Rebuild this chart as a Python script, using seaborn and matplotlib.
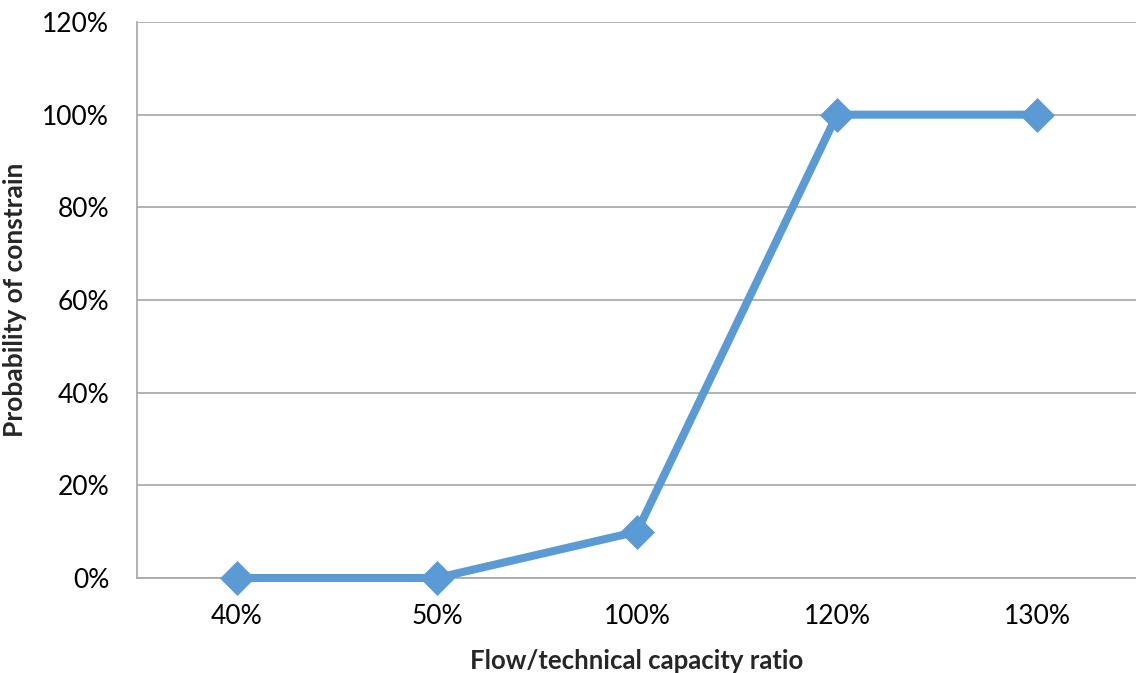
import matplotlib
matplotlib.use("Agg")
import matplotlib.pyplot as plt
import seaborn as sns
import pandas as pd
from matplotlib.ticker import FixedLocator, PercentFormatter

# Flow / technical capacity ratio categories and probability of constraint
ratio_labels = ["40%", "50%", "100%", "120%", "130%"]
probability = [0.0, 0.0, 0.10, 1.0, 1.0]
y_ticks = [0.0, 0.2, 0.4, 0.6, 0.8, 1.0, 1.2]

sns.set_style("white")
plt.rcParams["font.family"] = ["Lato", "DejaVu Sans"]

df = pd.DataFrame({"ratio": ratio_labels, "prob": probability})

fig = plt.figure(figsize=(11.36, 6.73), dpi=100)
ax = fig.add_axes([137 / 1136, 95 / 673, 1000 / 1136, 556 / 673])

blue = "#5B9BD5"
grid_col = "#A6A6A6"

sns.lineplot(data=df, x="ratio", y="prob", sort=False, ax=ax,
             color=blue, linewidth=5.8, marker="D", markersize=15.5,
             markerfacecolor=blue, markeredgecolor=blue, markeredgewidth=2.5,
             solid_joinstyle="round", zorder=3)
for line in ax.lines:
    line.set_solid_capstyle("round")
    line.set_clip_on(False)

ax.set_xlim(-0.5, len(ratio_labels) - 0.5)
ax.set_ylim(0, 1.2)
ax.yaxis.set_major_locator(FixedLocator(y_ticks))
ax.yaxis.set_major_formatter(PercentFormatter(1.0, decimals=0))

ax.set_xticks(range(len(ratio_labels)))
ax.set_xticklabels(ratio_labels)
ax.xaxis.set_minor_locator(FixedLocator([i - 0.5 for i in range(len(ratio_labels) + 1)]))

ax.grid(axis="y", color=grid_col, linewidth=1.2, zorder=0)
ax.grid(axis="x", visible=False)

for side in ["top", "right"]:
    ax.spines[side].set_visible(False)
for side in ["left", "bottom"]:
    ax.spines[side].set_color(grid_col)
    ax.spines[side].set_linewidth(1.2)

ax.tick_params(axis="x", which="major", length=0, pad=19, labelsize=19, labelcolor="#000000")
ax.tick_params(axis="x", which="minor", length=5, width=1.2, color=grid_col, direction="out")
ax.tick_params(axis="y", which="major", length=5, width=1.2, color=grid_col, direction="out",
               pad=15, labelsize=19, labelcolor="#000000")

ax.set_xlabel("Flow/technical capacity ratio", fontsize=18.5, fontweight="bold", labelpad=14)
ax.set_ylabel("Probability of constrain", fontsize=19, fontweight="bold")
ax.yaxis.set_label_coords(-0.110, 0.5)

fig.savefig("out.png", dpi=100)
